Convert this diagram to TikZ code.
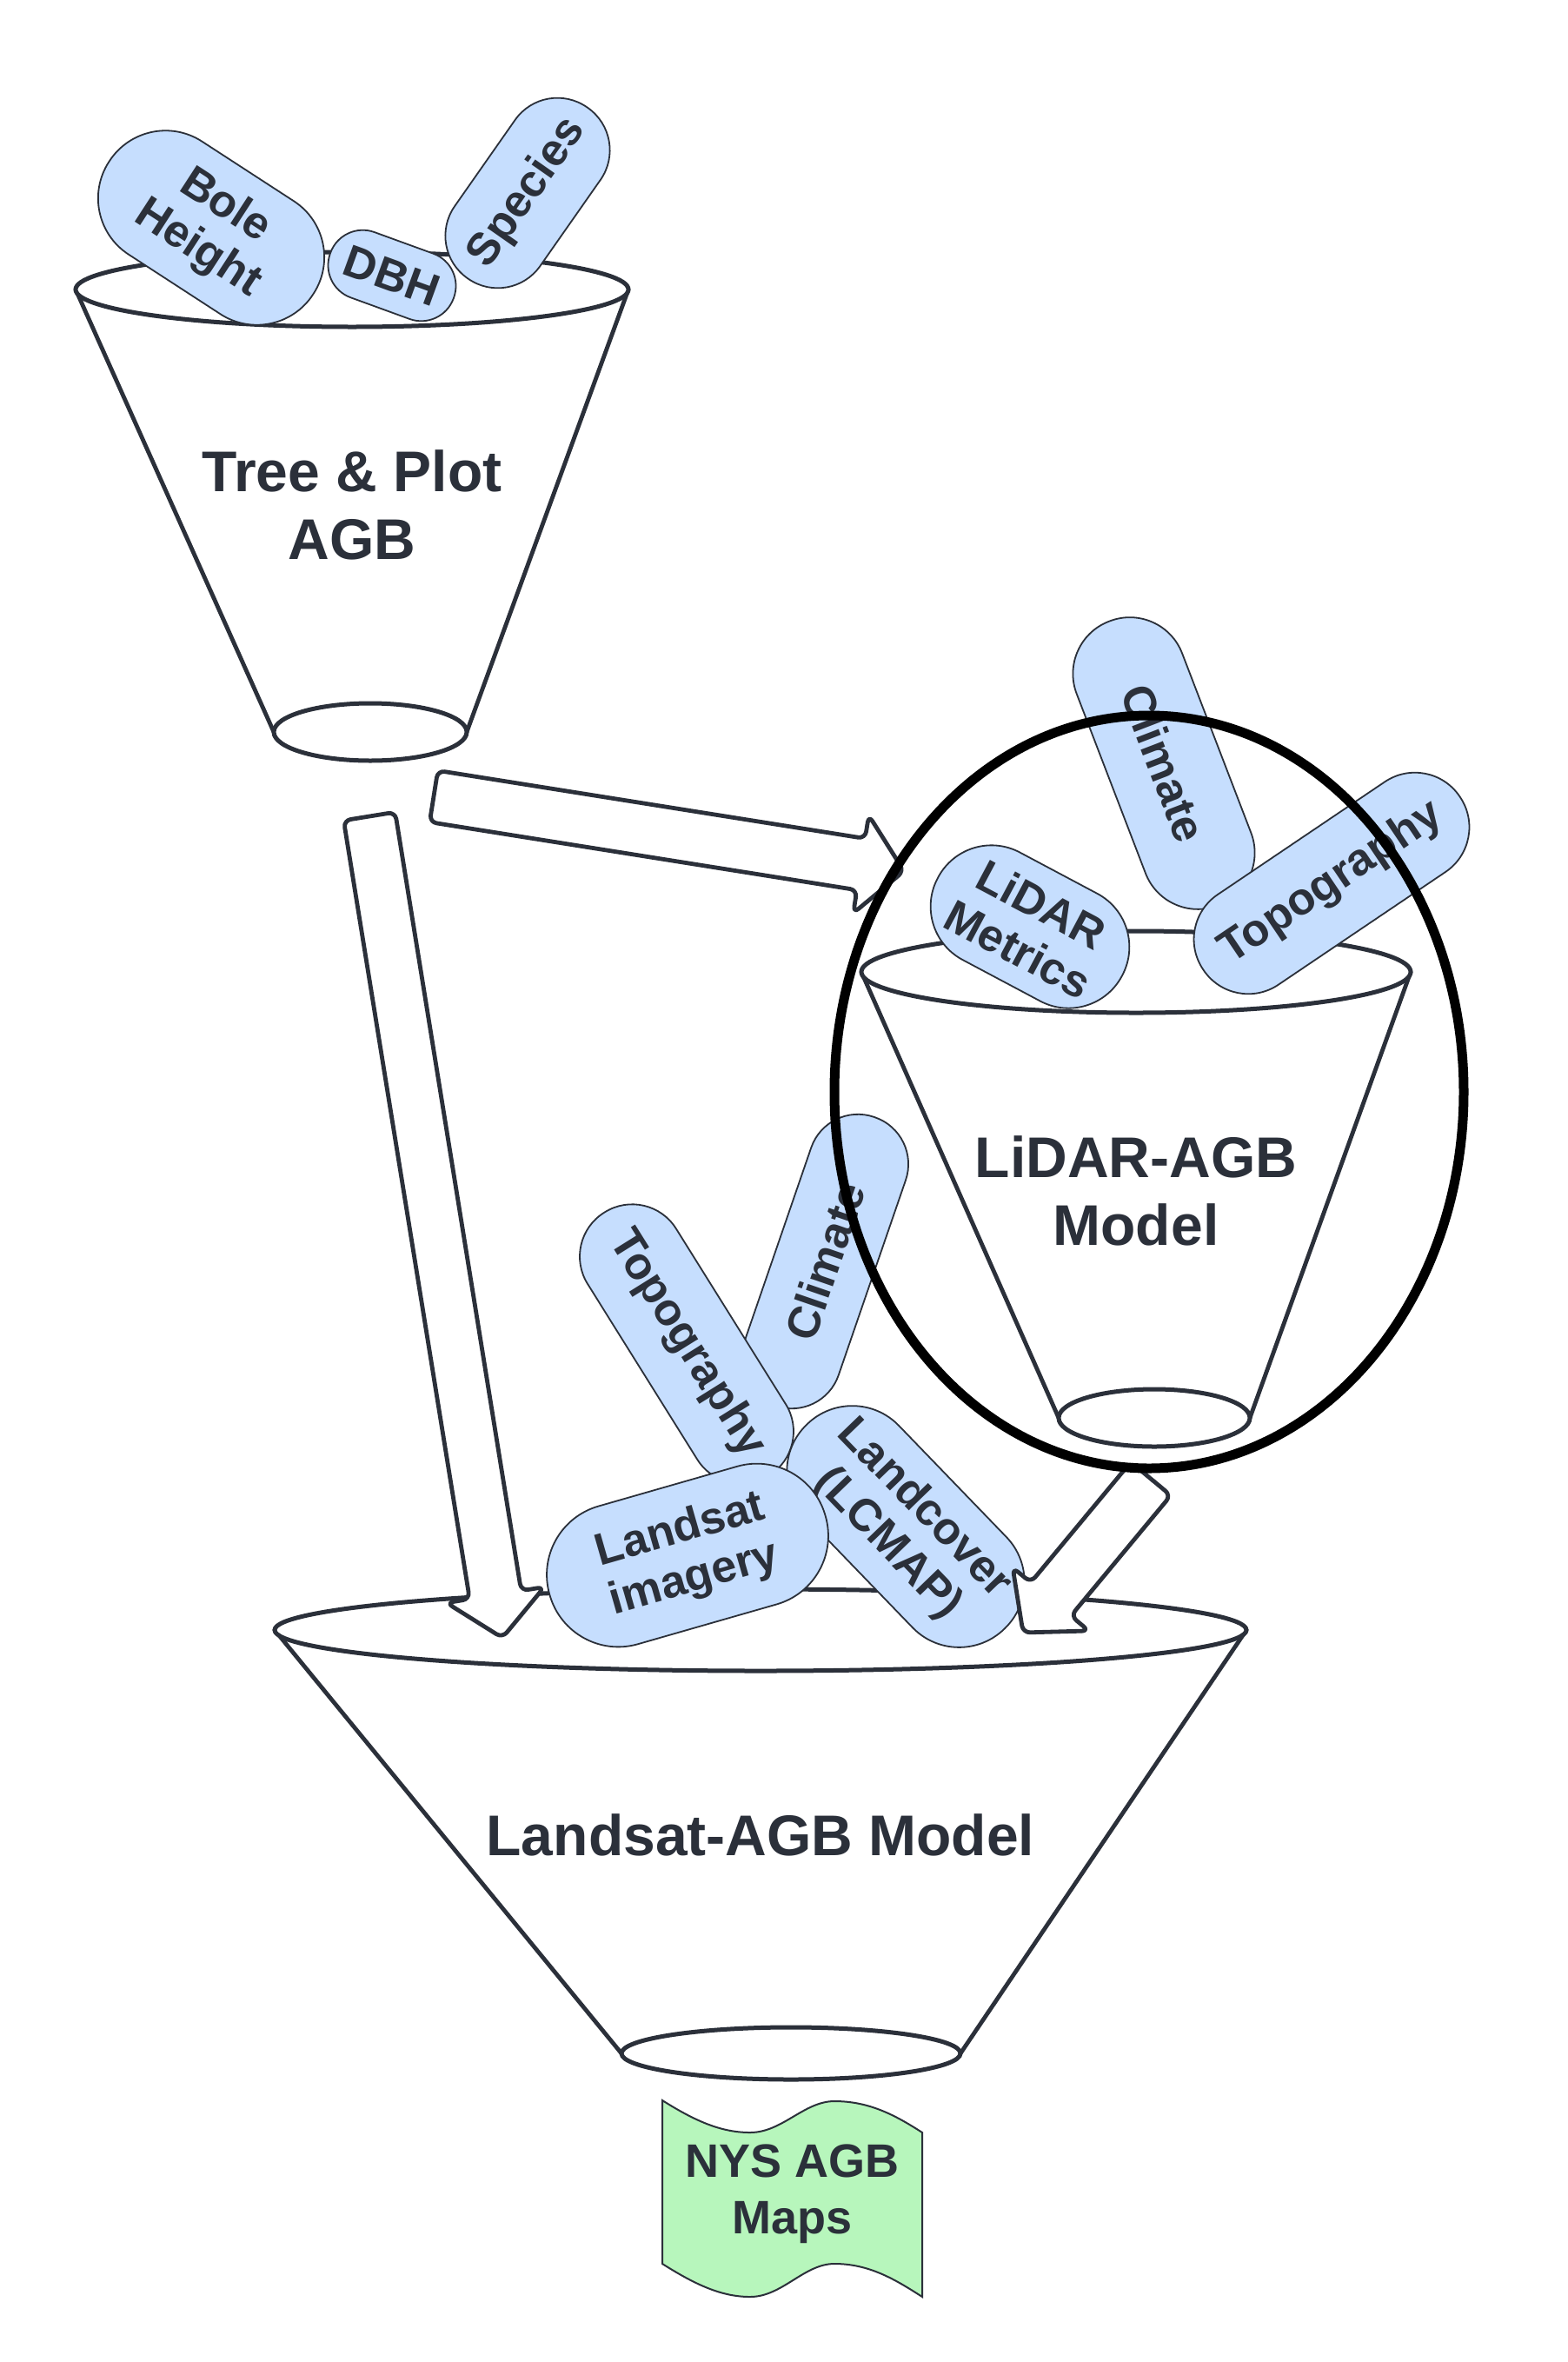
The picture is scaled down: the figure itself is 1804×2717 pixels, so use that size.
\documentclass[tikz,border=0pt]{standalone}
\usepackage{fontspec}
\setmainfont{Liberation Sans}
\usetikzlibrary{calc}

\definecolor{ink}{RGB}{43,48,58}
\definecolor{pillblue}{RGB}{198,222,254}
\definecolor{mapgreen}{RGB}{183,246,188}

\tikzset{
  rim/.style={draw=ink, line width=5pt, fill=white},
  funnelside/.style={draw=ink, line width=4.8pt, line cap=round},
  pill/.style={draw=ink, line width=1.8pt, fill=pillblue, text=ink,
    font=\fontsize{52}{58}\selectfont\bfseries, align=center, inner sep=0pt},
  bigtext/.style={text=ink, font=\fontsize{66}{78}\selectfont\bfseries, align=center},
  blockarrow/.style={draw=ink, line width=4.8pt, fill=white, rounded corners=8pt, line join=round},
  ring/.style={draw=black, line width=11pt},
  mapflag/.style={draw=ink, line width=2pt, fill=mapgreen},
}

% funnel: top ellipse centre/radii, bottom ellipse centre/radii
\newcommand\drawfunnel[8]{%
  \draw[funnelside] (#1-#3,#2) -- (#5-#7,#6);
  \draw[funnelside] (#1+#3,#2) -- (#5+#7,#6);
  \draw[rim] (#5,#6) ellipse [x radius=#7pt, y radius=#8pt];
  \draw[rim] (#1,#2) ellipse [x radius=#3pt, y radius=#4pt];
}

% block arrow from a named tail coordinate to a named tip coordinate
\newcommand\blockarrow[2]{%
  \draw[blockarrow] let \p1=(#1), \p2=(#2),
      \n1={atan2(\y2-\y1,\x2-\x1)}, \n2={veclen(\x2-\x1,\y2-\y1)} in
    {[shift={(\p1)}, rotate=\n1]
      (0pt,30pt) -- ({\n2*1pt-50pt},30pt) -- ({\n2*1pt-50pt},57pt) -- ({\n2*1pt},0pt)
      -- ({\n2*1pt-50pt},-57pt) -- ({\n2*1pt-50pt},-30pt) -- (0pt,-30pt) -- cycle};
}

\begin{document}
\begin{tikzpicture}[x=1pt, y=-1pt]
  \fill[white] (0,0) rectangle (1804,2717);
  \useasboundingbox (0,0) rectangle (1804,2717);

  % ---------- Tree & Plot funnel ----------
  \drawfunnel{405}{333}{318}{43}{426}{842}{111}{33}
  \node[bigtext] (treeplot) at (405,581) {Tree \& Plot\\AGB};

  \node[pill, minimum width=280pt, minimum height=155pt, rounded corners=77pt, rotate=-33]
    (pBole) at (243,262) {Bole\\Height};
  \node[pill, minimum width=151pt, minimum height=80pt, rounded corners=39.5pt, rotate=-20]
    (pDBH) at (451,317) {DBH};
  \node[pill, minimum width=240pt, minimum height=120pt, rounded corners=59.5pt, rotate=55]
    (pSpecies) at (607,222) {Species};

  % ---------- LiDAR and Landsat funnels ----------
  \drawfunnel{1307}{1118}{316}{47}{1328}{1631}{110}{33}
  \node[bigtext] (lidarmodel) at (1307,1370) {LiDAR-AGB\\Model};

  \drawfunnel{875}{1875}{559}{47}{910}{2362}{195}{30}
  \node[bigtext] (landsatmodel) at (875,2111) {Landsat-AGB Model};

  % ---------- flow arrows ----------
  \coordinate (tailA) at (425,939);
  \coordinate (tipA) at (578,1884);
  \coordinate (tailB) at (499,916);
  \coordinate (tipB) at (1040,1002);
  \coordinate (tailC) at (1324,1701);
  \coordinate (tipC) at (1177,1878);
  \blockarrow{tailA}{tipA}
  \blockarrow{tailB}{tipB}

  % ---------- LiDAR model inputs ----------
  \node[pill, minimum width=350pt, minimum height=130pt, rounded corners=64.5pt, rotate=-69]
    (pClimateL) at (1339,878) {Climate};
  \node[pill, minimum width=240pt, minimum height=140pt, rounded corners=69.5pt, rotate=-28]
    (pMetrics) at (1185,1066) {LiDAR\\Metrics};
  \node[pill, minimum width=356pt, minimum height=125pt, rounded corners=62pt, rotate=34]
    (pTopoL) at (1532,1016) {Topography};

  % ---------- Landsat model inputs ----------
  \node[pill, minimum width=351pt, minimum height=115pt, rounded corners=57pt, rotate=71]
    (pClimateS) at (949,1451) {Climate};
  \node[pill, minimum width=357pt, minimum height=120pt, rounded corners=59.5pt, rotate=-58]
    (pTopoS) at (790,1546) {Topography};
  \node[pill, minimum width=327pt, minimum height=150pt, rounded corners=74.5pt, rotate=-46]
    (pLandcover) at (1042,1756) {Landcover\\(LCMAP)};
  \node[pill, minimum width=330pt, minimum height=165pt, rounded corners=82pt, rotate=16]
    (pImagery) at (791,1789) {Landsat\\imagery};

  \blockarrow{tailC}{tipC}

  % ---------- highlight ring round the LiDAR model ----------
  \draw[ring] (1322,1256) ellipse [x radius=362pt, y radius=433pt];

  % ---------- output maps ----------
  \draw[mapflag] (762,2416)
      .. controls (800,2440) and (830,2453) .. (863,2453)
      .. controls (900,2453) and (925,2417) .. (960,2417)
      .. controls (1000,2417) and (1030,2433) .. (1061,2453)
      -- (1061,2642)
      .. controls (1030,2622) and (1000,2604) .. (960,2604)
      .. controls (925,2604) and (900,2642) .. (863,2642)
      .. controls (830,2642) and (800,2628) .. (762,2604) -- cycle;
  \node[text=ink, font=\fontsize{54}{65}\selectfont\bfseries, align=center]
    (maps) at (912,2524) {NYS AGB\\Maps};
\end{tikzpicture}
\end{document}
